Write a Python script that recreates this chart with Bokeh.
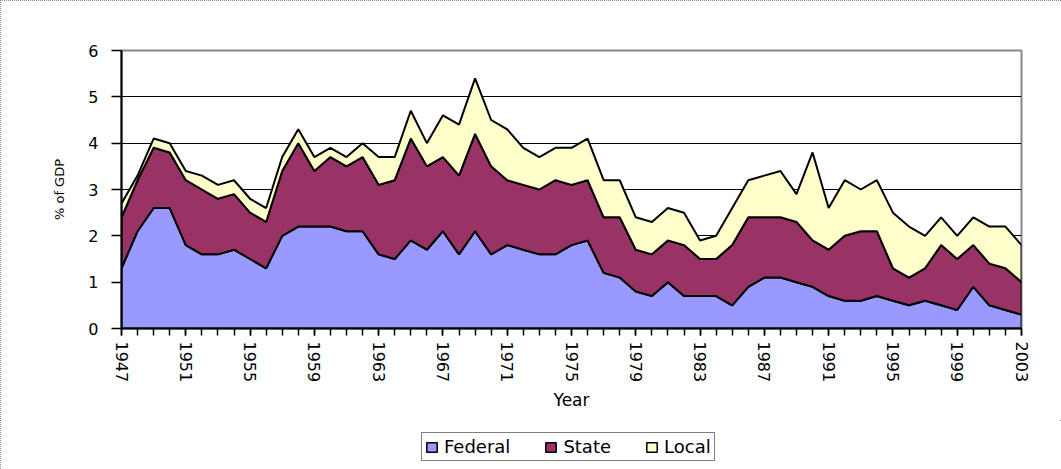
import numpy as np
from bokeh.plotting import figure
from bokeh.layouts import column
from bokeh.models import Range1d, FixedTicker, Legend, LegendItem, ColumnDataSource
from bokeh.embed import file_html
from bokeh.resources import INLINE

years = list(range(1947, 2004))
federal = [1.3, 2.1, 2.6, 2.6, 1.8, 1.6, 1.6, 1.7, 1.5, 1.3,
           2.0, 2.2, 2.2, 2.2, 2.1, 2.1, 1.6, 1.5, 1.9, 1.7,
           2.1, 1.6, 2.1, 1.6, 1.8, 1.7, 1.6, 1.6, 1.8, 1.9,
           1.2, 1.1, 0.8, 0.7, 1.0, 0.7, 0.7, 0.7, 0.5, 0.9,
           1.1, 1.1, 1.0, 0.9, 0.7, 0.6, 0.6, 0.7, 0.6, 0.5,
           0.6, 0.5, 0.4, 0.9, 0.5, 0.4, 0.3]
state = [1.1, 1.1, 1.3, 1.2, 1.4, 1.4, 1.2, 1.2, 1.0, 1.0,
         1.4, 1.8, 1.2, 1.5, 1.4, 1.6, 1.5, 1.7, 2.2, 1.8,
         1.6, 1.7, 2.1, 1.9, 1.4, 1.4, 1.4, 1.6, 1.3, 1.3,
         1.2, 1.3, 0.9, 0.9, 0.9, 1.1, 0.8, 0.8, 1.3, 1.5,
         1.3, 1.3, 1.3, 1.0, 1.0, 1.4, 1.5, 1.4, 0.7, 0.6,
         0.7, 1.3, 1.1, 0.9, 0.9, 0.9, 0.7]
local = [0.3, 0.1, 0.2, 0.2, 0.2, 0.3, 0.3, 0.3, 0.3, 0.3,
         0.3, 0.3, 0.3, 0.2, 0.2, 0.3, 0.6, 0.5, 0.6, 0.5,
         0.9, 1.1, 1.2, 1.0, 1.1, 0.8, 0.7, 0.7, 0.8, 0.9,
         0.8, 0.8, 0.7, 0.7, 0.7, 0.7, 0.4, 0.5, 0.8, 0.8,
         0.9, 1.0, 0.6, 1.9, 0.9, 1.2, 0.9, 1.1, 1.2, 1.1,
         0.7, 0.6, 0.5, 0.6, 0.8, 0.9, 0.8]
series_names = ["Federal", "State", "Local"]
series_colors = ["#9999FF", "#993366", "#FFFFCC"]
x_tick_labels = years[::4]
y_ticks = [0, 1, 2, 3, 4, 5, 6]

W = 1061
p = figure(width=W, height=420, output_backend="svg", toolbar_location=None,
           x_range=Range1d(years[0], years[-1]), y_range=Range1d(0, 6),
           min_border_left=121, min_border_right=40, min_border_top=50,
           min_border_bottom=92)

layers = [np.array(federal), np.array(state), np.array(local)]
bottom = np.zeros(len(years))
for vals, name, col in zip(layers, series_names, series_colors):
    top = bottom + vals
    src = ColumnDataSource(dict(x=years + years[::-1], y=list(top) + list(bottom[::-1])))
    p.patch("x", "y", source=src, fill_color=col, line_color="black", line_width=2)
    bottom = top

p.outline_line_color = "#888888"
p.outline_line_width = 2
p.xgrid.visible = False
p.ygrid.ticker = FixedTicker(ticks=y_ticks[1:-1])
p.ygrid.grid_line_color = "black"
p.ygrid.grid_line_width = 1

for ax in (p.xaxis, p.yaxis):
    ax.axis_line_color = "black"
    ax.axis_line_width = 2
    ax.major_tick_line_color = "black"
    ax.minor_tick_line_color = "black"
    ax.major_tick_line_width = 1.5
    ax.minor_tick_line_width = 1.5
    ax.major_tick_in = 0
    ax.minor_tick_in = 0
    ax.major_label_text_font = "DejaVu Sans"
    ax.major_label_text_font_size = "16px"
    ax.major_label_text_color = "black"
    ax.axis_label_text_font = "DejaVu Sans"
    ax.axis_label_text_font_style = "normal"
    ax.axis_label_text_color = "black"

p.xaxis.ticker = FixedTicker(ticks=x_tick_labels, minor_ticks=years)
p.xaxis.major_tick_out = 7
p.xaxis.minor_tick_out = 7
p.xaxis.major_label_orientation = -np.pi / 2
p.xaxis.major_label_standoff = 6
p.xaxis.axis_label = "Year"
p.xaxis.axis_label_text_font_size = "17px"
p.xaxis.axis_label_standoff = 5

p.yaxis.ticker = FixedTicker(ticks=y_ticks, minor_ticks=[])
p.yaxis.major_tick_out = 10
p.yaxis.major_label_standoff = 13
p.yaxis.axis_label = "% of GDP"
p.yaxis.axis_label_text_font_size = "13px"
p.yaxis.axis_label_standoff = 18

# legend strip below the chart (proxy glyphs use the same series, out of view)
p2 = figure(width=W, height=49, output_backend="svg", toolbar_location=None,
            x_range=Range1d(0, 1), y_range=Range1d(0, 1),
            x_axis_location=None, y_axis_location=None,
            min_border_left=0, min_border_right=0, min_border_top=0, min_border_bottom=0)
p2.grid.visible = False
p2.outline_line_color = None
proxies = [p2.patch(x=years, y=list(vals), fill_color=c, line_color="black", line_width=1.5)
           for vals, c in zip(layers, series_colors)]
legend = Legend(items=[LegendItem(label=n, renderers=[r]) for n, r in zip(series_names, proxies)],
                orientation="horizontal", location=(300, 8))
legend.label_text_font = "DejaVu Sans"
legend.label_text_font_size = "18px"
legend.label_text_color = "black"
legend.glyph_width = 13
legend.glyph_height = 12
legend.label_standoff = 6
legend.spacing = 34
legend.padding = 3
legend.margin = 0
legend.border_line_color = "black"
legend.border_line_width = 1.5
legend.background_fill_alpha = 1
p2.add_layout(legend, "center")

page = column(p, p2, spacing=0,
              styles={"outline": "1px dotted #666666", "outline-offset": "-1px"})

open("out.html", "w").write(file_html(page, INLINE))
